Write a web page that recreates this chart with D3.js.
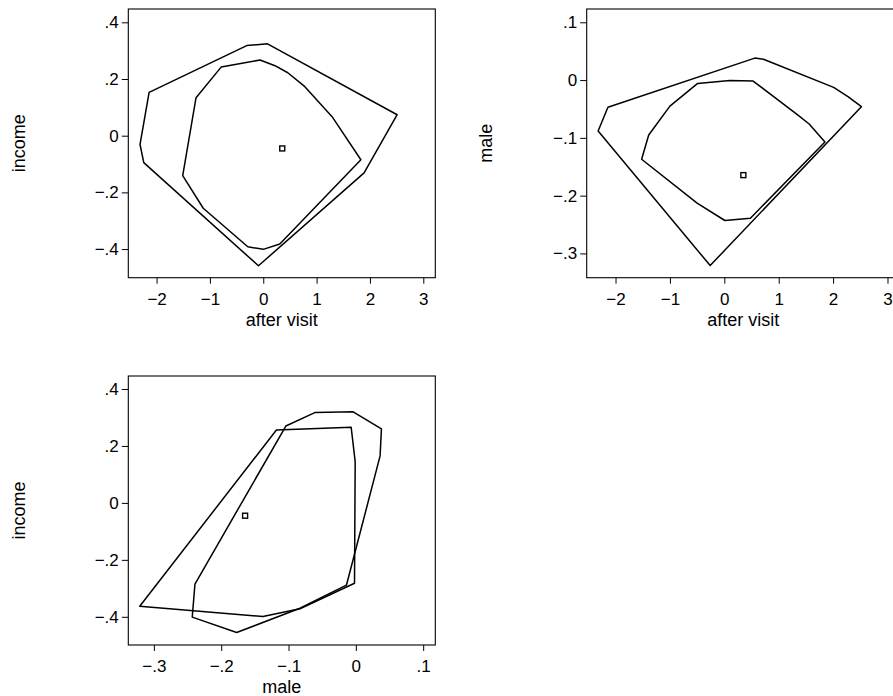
<!DOCTYPE html>
<html>
<head>
<meta charset="utf-8">
<script src="https://cdn.jsdelivr.net/npm/d3@7"></script>
<style>
  html, body { margin: 0; padding: 0; background: #fff; }
  svg { display: block; }
  text { font-family: "Liberation Sans", Arial, sans-serif; fill: #000; }
</style>
</head>
<body>
<svg id="chart" width="893" height="696"></svg>
<script>
// ---------- data ----------
const afterVisitTicks = [-2, -1, 0, 1, 2, 3];
const incomeTicks = [-0.4, -0.2, 0, 0.2, 0.4];
const maleTicksY = [-0.3, -0.2, -0.1, 0, 0.1];
const maleTicksX = [-0.3, -0.2, -0.1, 0, 0.1];

// panel 1: after visit (x) vs income (y)
const p1Outer = [[-2.14,0.153],[-0.31,0.318],[0.08,0.324],[2.51,0.074],[1.89,-0.131],[-0.09,-0.459],[-2.24,-0.095],[-2.31,-0.031]];
const p1Inner = [[-0.79,0.242],[-0.06,0.267],[0.22,0.247],[0.46,0.222],[0.78,0.173],[1.29,0.067],[1.83,-0.085],[0.31,-0.382],[0.0,-0.401],[-0.29,-0.392],[-1.125,-0.256],[-1.51,-0.141],[-1.26,0.134]];
const p1Center = [0.356, -0.045];

// panel 2: after visit (x) vs male (y)
const p2Outer = [[-2.14,-0.047],[0.56,0.038],[0.72,0.036],[2.01,-0.0127],[2.28,-0.029],[2.52,-0.046],[-0.26,-0.321],[-2.32,-0.088]];
const p2Inner = [[-0.49,-0.0058],[0.10,-0.0006],[0.53,-0.0017],[1.36,-0.061],[1.56,-0.076],[1.85,-0.107],[0.48,-0.239],[0.01,-0.243],[-0.50,-0.213],[-1.52,-0.137],[-1.39,-0.095],[-1.0,-0.045]];
const p2Center = [0.35, -0.1645];

// panel 3: male (x) vs income (y)
const p3PolyA = [[-0.321,-0.363],[-0.118,0.256],[-0.007,0.266],[-0.001,0.145],[-0.002,-0.282],[-0.083,-0.372],[-0.138,-0.399]];
const p3PolyB = [[-0.104,0.270],[-0.061,0.317],[-0.004,0.320],[0.038,0.260],[0.036,0.165],[-0.014,-0.289],[-0.083,-0.370],[-0.177,-0.455],[-0.243,-0.401],[-0.239,-0.285]];
const p3Center = [-0.1645, -0.045];

// ---------- helpers ----------
const svg = d3.select("#chart");
const FONT = "Liberation Sans, Arial, sans-serif";
const TICK_FS = 17, TITLE_FS = 18;
const fmt = v => {
  if (Math.abs(v) < 1e-9) return "0";
  let s = String(+v.toFixed(2));
  s = s.replace(/^(-?)0\./, "$1.");
  return s.replace("-", "\u2212");
};

function panel(cfg) {
  const x = d3.scaleLinear().domain(cfg.xDomain).range([cfg.left, cfg.right]);
  const y = d3.scaleLinear().domain(cfg.yDomain).range([cfg.bottom, cfg.top]);
  const g = svg.append("g");

  // frame
  g.append("rect")
    .attr("x", cfg.left).attr("y", cfg.top)
    .attr("width", cfg.right - cfg.left).attr("height", cfg.bottom - cfg.top)
    .attr("fill", "none").attr("stroke", "#000").attr("stroke-width", 1.1);

  // x axis
  const xa = g.append("g").attr("transform", `translate(0,${cfg.bottom})`)
    .call(d3.axisBottom(x).tickValues(cfg.xTicks).tickSize(6).tickPadding(9).tickFormat(fmt));
  xa.select(".domain").remove();
  xa.attr("font-size", TICK_FS).attr("font-family", FONT);
  xa.selectAll("line").attr("stroke", "#000").attr("stroke-width", 1);
  xa.selectAll("text").attr("fill", "#000");

  // y axis
  const ya = g.append("g").attr("transform", `translate(${cfg.left},0)`)
    .call(d3.axisLeft(y).tickValues(cfg.yTicks).tickSize(6.5).tickPadding(3).tickFormat(fmt));
  ya.select(".domain").remove();
  ya.attr("font-size", TICK_FS).attr("font-family", FONT);
  ya.selectAll("line").attr("stroke", "#000").attr("stroke-width", 1);
  ya.selectAll("text").attr("fill", "#000");

  // titles
  g.append("text").attr("x", (cfg.left + cfg.right) / 2).attr("y", cfg.bottom + 48)
    .attr("text-anchor", "middle").attr("font-size", TITLE_FS).text(cfg.xTitle);
  const cy = (cfg.top + cfg.bottom) / 2;
  g.append("text").attr("transform", `translate(${cfg.yTitleX},${cy}) rotate(-90)`)
    .attr("text-anchor", "middle").attr("font-size", TITLE_FS).text(cfg.yTitle);

  const line = d3.line().x(d => x(d[0])).y(d => y(d[1])).curve(d3.curveLinearClosed);
  cfg.polys.forEach(p => {
    g.append("path").attr("d", line(p)).attr("fill", "none")
      .attr("stroke", "#000").attr("stroke-width", 1.5).attr("stroke-linejoin", "round");
  });
  g.append("rect")
    .attr("x", x(cfg.center[0]) - 2.5).attr("y", y(cfg.center[1]) - 2.5)
    .attr("width", 5).attr("height", 5)
    .attr("fill", "none").attr("stroke", "#000").attr("stroke-width", 1.4);
}

panel({
  left: 128.3, right: 435.3, top: 9, bottom: 277.7,
  xDomain: [-2.53, 3.225], yDomain: [-0.501, 0.447],
  xTicks: afterVisitTicks, yTicks: incomeTicks,
  xTitle: "after visit", yTitle: "income", yTitleX: 25,
  polys: [p1Outer, p1Inner], center: p1Center
});
panel({
  left: 586.7, right: 900, top: 9, bottom: 277.7,
  xDomain: [-2.53, 3.23], yDomain: [-0.342, 0.123],
  xTicks: afterVisitTicks, yTicks: maleTicksY,
  xTitle: "after visit", yTitle: "male", yTitleX: 492,
  polys: [p2Outer, p2Inner], center: p2Center
});
panel({
  left: 128.3, right: 435.3, top: 376, bottom: 645,
  xDomain: [-0.338, 0.118], yDomain: [-0.499, 0.4456],
  xTicks: maleTicksX, yTicks: incomeTicks,
  xTitle: "male", yTitle: "income", yTitleX: 25,
  polys: [p3PolyA, p3PolyB], center: p3Center
});
</script>
</body>
</html>
